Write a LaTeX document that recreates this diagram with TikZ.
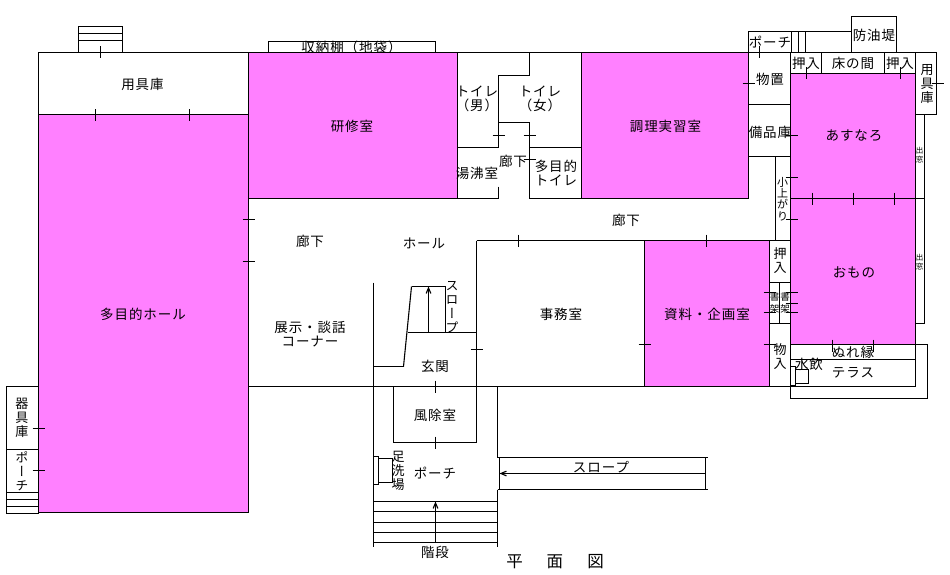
\documentclass[tikz,border=0pt]{standalone}
\usepackage{fontspec}
\setmainfont[LetterSpace=7]{Noto Sans CJK JP}
\newfontfamily\upright[RawFeature=+vert]{Noto Sans CJK JP}
\usetikzlibrary{arrows}
\definecolor{roomfill}{RGB}{255,128,255}
\tikzstyle{room}=[draw,line width=1.1pt,fill=roomfill]
\tikzstyle{wall}=[draw,line width=1.1pt,-]
\tikzstyle{ticked}=[draw,line width=1.1pt,-]
\tikzstyle{label}=[inner sep=0pt,align=center,font=\fontsize{13.5}{14}\selectfont]
\tikzstyle{stacked}=[label,font=\upright\fontsize{13}{14}\selectfont]
\tikzstyle{tiny}=[label,font=\fontsize{11}{11.2}\selectfont]
\tikzstyle{tinier}=[label,font=\fontsize{7.5}{8.5}\selectfont]
\tikzstyle{slope}=[draw,line width=1.1pt,->,>=angle 45]

\begin{document}
\begin{tikzpicture}[x=1pt,y=-1pt]
    \useasboundingbox (0,0) rectangle (950,575);
    % The cupboard label goes first, the room below cuts its lower edge
    \node[label] (shuno) at (351.5,47.5) {収納棚（地袋）};

    % First we draw the coloured rooms
    \foreach \from/\to in {{(38.5,114.5)/(248.5,512.5)}, {(248.5,52.5)/(457.5,198.5)}, {(581.5,52.5)/(748.5,198.5)}, {(644.5,240.5)/(769.5,386.5)}, {(790.5,73.5)/(915.5,198.5)}, {(790.5,198.5)/(915.5,344.5)}}
        \path[room] \from rectangle \to;

    % Then the white rooms and boxes
    \foreach \from/\to in {{(38.5,52.5)/(248.5,114.5)}, {(78.5,26.5)/(122.5,52.5)}, {(268.5,41.5)/(435.5,52.5)}, {(393.5,386.5)/(476.5,442.5)}, {(6.5,386.5)/(38.5,449.5)}, {(6.5,449.5)/(38.5,492.5)}, {(6.5,492.5)/(38.5,513.5)}, {(851.5,16.5)/(896.5,52.5)}, {(748.5,31.5)/(791.5,52.5)}, {(748.5,52.5)/(790.5,104.5)}, {(748.5,104.5)/(790.5,156.5)}, {(790.5,52.5)/(821.5,73.5)}, {(821.5,52.5)/(884.5,73.5)}, {(884.5,52.5)/(915.5,73.5)}, {(915.5,52.5)/(936.5,114.5)}, {(769.5,240.5)/(790.5,282.5)}, {(769.5,282.5)/(779.5,323.5)}, {(779.5,282.5)/(790.5,323.5)}, {(769.5,323.5)/(790.5,386.5)}, {(915.5,114.5)/(924.5,323.5)}, {(790.5,344.5)/(915.5,359.5)}, {(790.5,359.5)/(915.5,386.5)}, {(790.5,344.5)/(927.5,398.5)}, {(790.5,366.5)/(795.5,385.5)}, {(795.5,369.5)/(808.5,383.5)}, {(373.5,456.5)/(378.5,484.5)}, {(378.5,458.5)/(392.5,482.5)}}
        \path[wall] \from rectangle \to;

    % Connect the walls
    \foreach \source/\dest in {{(457.5,52.5)/(581.5,52.5)}, {(498.5,75.5)/(498.5,147.5)}, {(457.5,147.5)/(498.5,147.5)}, {(498.5,186.5)/(498.5,198.5)}, {(457.5,198.5)/(498.5,198.5)}, {(529.5,52.5)/(529.5,75.5)}, {(498.5,75.5)/(529.5,75.5)}, {(498.5,122.5)/(529.5,122.5)}, {(529.5,122.5)/(529.5,198.5)}, {(529.5,147.5)/(581.5,147.5)}, {(529.5,198.5)/(581.5,198.5)}, {(248.5,386.5)/(790.5,386.5)}, {(476.5,240.5)/(644.5,240.5)}, {(476.5,240.5)/(476.5,442.5)}, {(373.5,282.5)/(373.5,546.5)}, {(373.5,366.5)/(403.5,366.5)}, {(403.5,366.5)/(411.5,286.5)}, {(411.5,286.5)/(445.5,286.5)}, {(445.5,286.5)/(445.5,332.5)}, {(407.5,332.5)/(476.5,332.5)}, {(497.5,386.5)/(497.5,457.5)}, {(497.5,489.5)/(497.5,546.5)}, {(497.5,457.5)/(707.5,457.5)}, {(497.5,489.5)/(707.5,489.5)}, {(499.5,457.5)/(499.5,489.5)}, {(705.5,457.5)/(705.5,489.5)}, {(775.5,156.5)/(775.5,240.5)}, {(748.5,198.5)/(748.5,156.5)}, {(915.5,198.5)/(924.5,198.5)}, {(6.5,499.5)/(38.5,499.5)}, {(6.5,506.5)/(38.5,506.5)}, {(78.5,33.5)/(122.5,33.5)}, {(78.5,40.5)/(122.5,40.5)}, {(798.5,31.5)/(798.5,52.5)}, {(805.5,31.5)/(805.5,52.5)}, {(791.5,31.5)/(851.5,31.5)}, {(373.5,501.5)/(497.5,501.5)}, {(373.5,511.5)/(497.5,511.5)}, {(373.5,522.5)/(497.5,522.5)}, {(373.5,532.5)/(497.5,532.5)}, {(373.5,542.5)/(497.5,542.5)}, {(499.5,473.5)/(705.5,473.5)}}
        \path[wall] \source -- \dest;

    % Door marks, upright ones then flat ones
    \foreach \x/\y in {100.5/52.5, 95.5/115.5, 189.5/115.5, 518.5/240.5, 706.5/240.5, 435.5/386.5, 435.5/442.5, 759.5/52.5, 806.5/73.5, 900.5/73.5, 812.5/198.5, 853.5/198.5, 894.5/198.5, 832.5/345.5, 873.5/345.5}
        \path[ticked] (\x,\y-6) -- (\x,\y+6);
    \foreach \x/\y in {248.5/219.5, 248.5/261.5, 498.5/135.5, 529.5/135.5, 529.5/159.5, 476.5/349.5, 644.5/344.5, 769.5/344.5, 38.5/428.5, 38.5/470.5, 748.5/83.5, 791.5/135.5, 937.5/83.5, 769.5/292.5, 769.5/312.5, 791.5/292.5, 791.5/303.5, 791.5/312.5, 791.5/177.5, 791.5/219.5}
        \path[ticked] (\x-6,\y) -- (\x+6,\y);

    % Slopes and stairs go up this way
    \path[slope] (428.5,332.5) -- (428.5,286.5);
    \path[slope] (435.5,542.5) -- (435.5,501.5);
    \path[slope] (512,473.5) -- (499.5,473.5);

    % Room names
    \foreach \pos/\name/\txt in {{(142.5,84)/yogu/用具庫}, {(352,126)/kenshu/研修室}, {(477,99)/toiletm/トイレ\\（男）}, {(540,99)/toiletw/トイレ\\（女）}, {(665.5,126)/chori/調理実習室}, {(477,173)/yuwakashi/湯沸室}, {(513,161)/rokai/廊下}, {(556,173)/tamokutoilet/多目的\\トイレ}, {(626,220)/rokab/廊下}, {(310,241)/rokac/廊下}, {(424,243)/hall/ホール}, {(143,314)/tamoku/多目的ホール}, {(310,334)/tenji/展示・談話\\コーナー}, {(561,314)/jimu/事務室}, {(707,314)/shiryo/資料・企画室}, {(435,366)/genkan/玄関}, {(435,415)/fujo/風除室}, {(435,473)/porcha/ポーチ}, {(435,552)/kaidan/階段}, {(601,467)/slopea/スロープ}, {(770,42)/porchb/ポーチ}, {(874,35)/boyu/防油堤}, {(806,63)/oshia/押入}, {(853,63)/toko/床の間}, {(900,63)/oshib/押入}, {(770,79)/monooki/物置}, {(770,132)/bihin/備品庫}, {(854,136)/asunaro/あすなろ}, {(854,272)/omono/おもの}, {(853,352)/nure/ぬれ縁}, {(853,373)/terrace/テラス}, {(809,364)/mizu/水飲}}
        \node[label] (\name) at \pos {\txt};

    % The names that run downwards
    \foreach \pos/\name/\txt in {{(22,418)/kigu/器\\具\\庫}, {(22,471)/porchc/ポ\\ー\\チ}, {(398,471)/ashi/足\\洗\\場}, {(452,307)/slopeb/ス\\ロ\\ー\\プ}, {(927,84)/yogub/用\\具\\庫}, {(780,261)/oshic/押\\入}, {(780,357)/monoire/物\\入}}
        \node[stacked] (\name) at \pos {\txt};
    \node[tiny] (koagari) at (782.5,199) {小\\上\\が\\り};
    \foreach \pos/\name in {{(774.5,303)/shoka},{(785.2,303)/shokb}}
        \node[tinier,font=\fontsize{9.5}{11.5}\selectfont] (\name) at \pos {書\\架};
    \foreach \pos/\name in {{(919.7,155)/demada},{(919.7,262)/demadb}}
        \node[tinier] (\name) at \pos {出\\窓};

    % Title
    \node[label,font=\fontsize{16.5}{18}\selectfont] (title) at (555,562) {平\hspace{24pt}面\hspace{24pt}図};
\end{tikzpicture}
\end{document}
